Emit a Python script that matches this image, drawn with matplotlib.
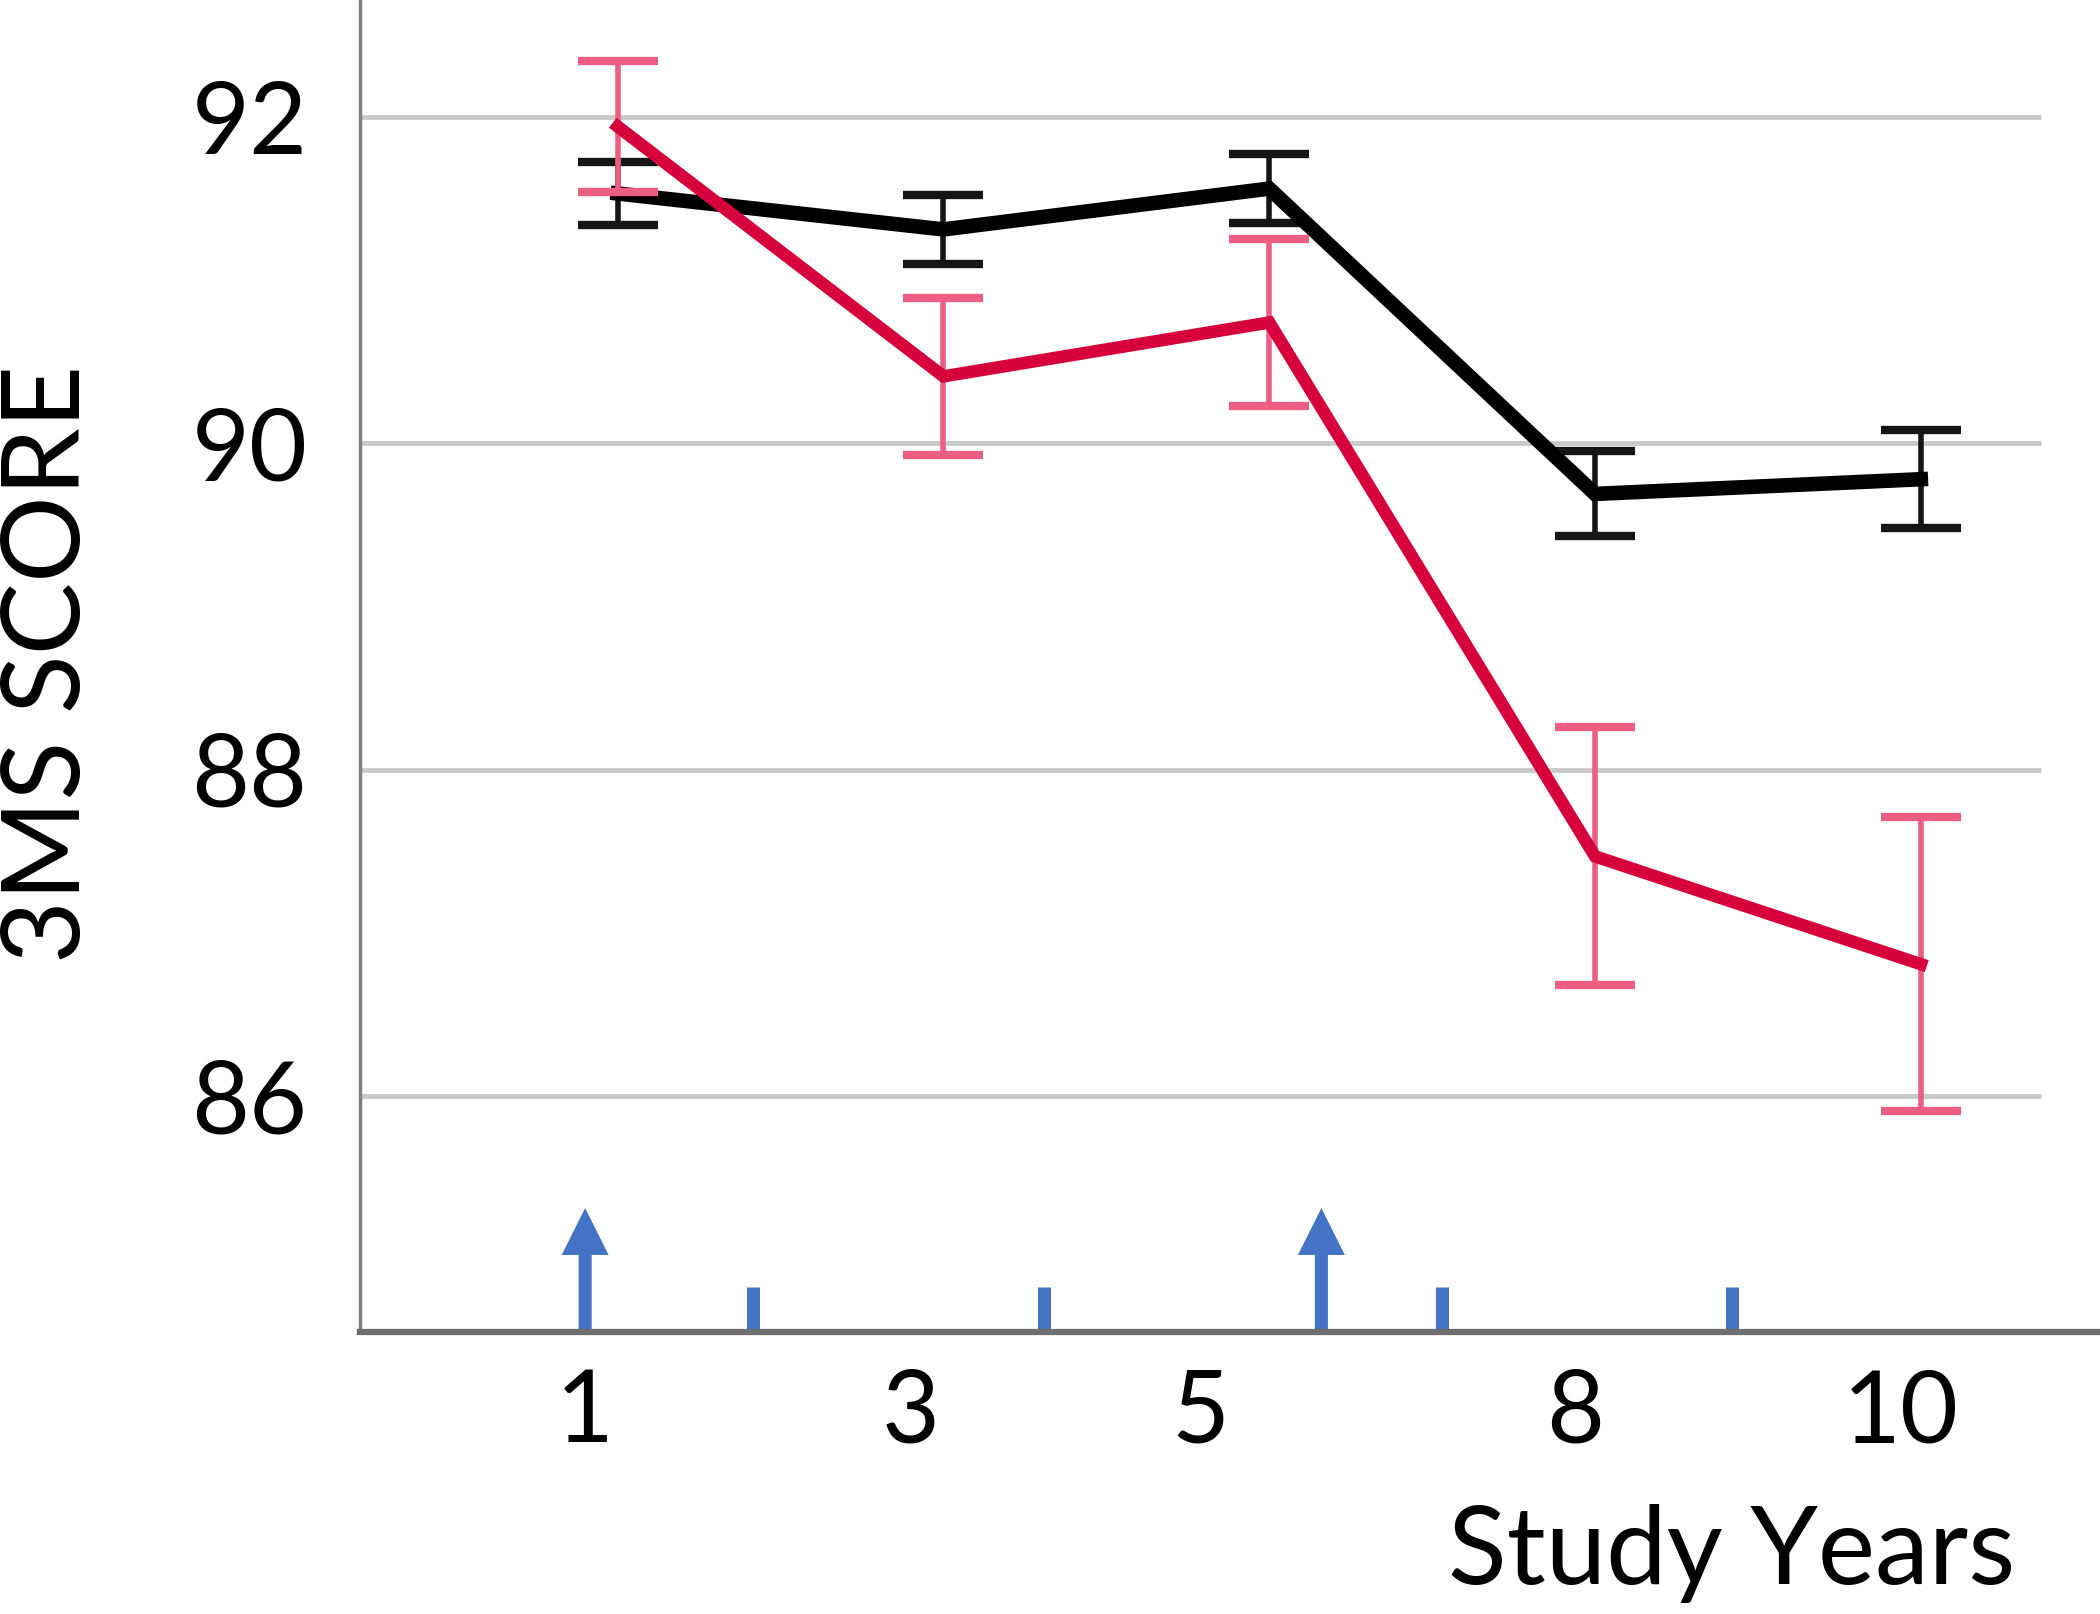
import numpy as np
import matplotlib.pyplot as plt

# Lato is the closest installed match to the Calibri-like face of the original
plt.rcParams['font.family'] = ['Lato', 'DejaVu Sans']

# DATA ------------------------------------------------------------------------------------------
years = ['1', '3', '5', '8', '10']                      # study-year labels of the five visits
red_mean = [91.94, 90.41, 90.74, 87.47, 86.81]          # 3MS score, red group
red_err = [0.40, 0.48, 0.51, 0.79, 0.90]
black_mean = [91.53, 91.31, 91.56, 89.69, 89.78]        # 3MS score, black group
black_err = [0.19, 0.21, 0.21, 0.26, 0.30]

# events along the time axis, in visit-index units (0 = year 1 visit)
arrow_events = [-0.10, 2.16]
tick_events = [0.415, 1.31, 2.53, 3.42]

y_ticks = [86, 88, 90, 92]

# LAYOUT / STYLE --------------------------------------------------------------------------------
label_pos = [-0.10, 0.90, 1.79, 2.94, 3.94]             # x positions of the year labels
XMIN, XMAX, GRID_END = -0.79, 4.55, 4.37
YMIN, YMAX = 84.555, 92.715
ARROW_TOP, TICK_TOP = 85.316, 84.833

RED = '#D6003C'
PINK = '#EC5F82'
BLUE = '#4472C4'
GRID_COLOR = '#CACACA'
FS = 72

fig = plt.figure(figsize=(21, 16.14), dpi=100)
ax = fig.add_axes([0.1716, 0.1745, 0.8284, 0.8255])

x = np.arange(len(years))

# horizontal grid lines (they stop short of the right edge)
ax.hlines(y_ticks, XMIN, GRID_END, color=GRID_COLOR, lw=3.5, zorder=1)

# black group
ax.errorbar(x, black_mean, yerr=black_err, fmt='none', ecolor='#151515',
            elinewidth=4, capsize=29, capthick=6, zorder=3)
ax.plot(x, black_mean, color='black', lw=10.5, solid_joinstyle='miter', zorder=4)

# red group
ax.errorbar(x, red_mean, yerr=red_err, fmt='none', ecolor=PINK,
            elinewidth=4, capsize=29, capthick=6, zorder=5)
ax.plot(x, red_mean, color=RED, lw=9, solid_joinstyle='miter', zorder=6)

# blue event markers on the time axis
for xa in arrow_events:
    ax.arrow(xa, YMIN, 0, ARROW_TOP - YMIN, width=0.04, head_width=0.144,
             head_length=0.287, length_includes_head=True, color=BLUE, lw=0, zorder=2)
ax.vlines(tick_events, YMIN, TICK_TOP, color=BLUE, lw=9.4, capstyle='butt', zorder=2)

ax.set_xlim(XMIN, XMAX)
ax.set_ylim(YMIN, YMAX)

ax.set_xticks(label_pos, years)
ax.set_yticks(y_ticks, [str(y) for y in y_ticks])
ax.tick_params(axis='x', length=0, pad=26, labelsize=FS, colors='black')
ax.tick_params(axis='y', length=0, pad=38, labelsize=FS, colors='black')

ax.spines['top'].set_visible(False)
ax.spines['right'].set_visible(False)
ax.spines['left'].set_color('#808080')
ax.spines['left'].set_linewidth(2.5)
ax.spines['bottom'].set_color('#6E6E6E')
ax.spines['bottom'].set_linewidth(4.5)
ax.spines['bottom'].set_zorder(7)

fig.text(0.0235, 0.5886, '3MS SCORE', rotation=90, ha='center', va='center', fontsize=FS + 6)
fig.text(0.9595, 0.0188, 'Study Years', ha='right', va='baseline', fontsize=FS + 6)

plt.savefig('out.png', dpi=100)
